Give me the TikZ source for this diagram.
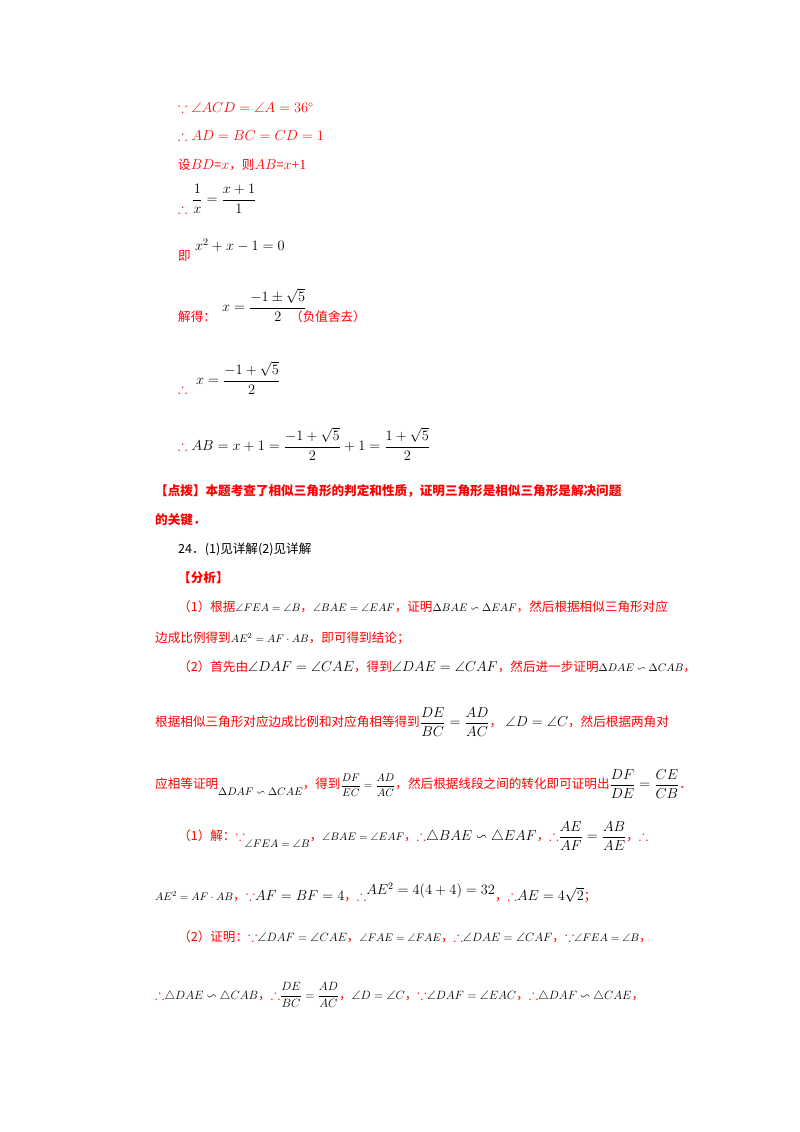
\documentclass[tikz,border=0pt]{standalone}
\usepackage{amsmath,amssymb,graphicx}
\usepackage{fontspec}
\setmainfont{Noto Sans CJK SC}
\newfontfamily\ser{Liberation Serif}
\newcommand{\mb}[1]{{\color{black}\fontsize{14}{17}\selectfont$#1$}}
\newcommand{\mc}[1]{{\color{black}\fontsize{12.5}{15}\selectfont$#1$}}
\newcommand{\sm}[1]{{\color{black}\fontsize{11}{13}\selectfont$#1$}}
\newcommand{\rd}[1]{{\fontsize{14}{17}\selectfont$#1$}}
\begin{document}
\begin{tikzpicture}[x=1pt,y=-1pt,
  ln/.style={anchor=west,inner sep=0pt,font=\fontsize{12.6}{15}\selectfont,text=red},
  bk/.style={ln,text=black},
  bd/.style={ln,font=\bfseries\fontsize{12.6}{15}\selectfont}]
\useasboundingbox (0,0) rectangle (800,1132);
\fill[white] (0,0) rectangle (800,1132);
\node[ln] (l1) at (178,108) {\rd{\because\angle ACD=\angle A=36^\circ}};
\node[ln] (l2) at (178,136) {\rd{\therefore AD=BC=CD=1}};
\node[ln] (l3) at (178,165) {设\rd{BD}={\ser\fontsize{14}{17}\selectfont$x$}，则\rd{AB}={\ser\fontsize{14}{17}\selectfont$x$+1}};
\node[ln] (l4a) at (178,209) {\rd{\therefore}};
\node[ln] (l4) at (192,199) {\mb{\dfrac{1}{x}=\dfrac{x+1}{1}}};
\node[ln] (l5a) at (178,256) {即};
\node[ln] (l5) at (195,245) {\mb{x^2+x-1=0}};
\node[ln] (l6a) at (178,317) {解得：};
\node[ln] (l6) at (222,305) {\mb{x=\dfrac{-1\pm\sqrt5}{2}}};
\node[ln] (l6b) at (290,317) {（负值舍去）};
\node[ln] (l7a) at (178,389) {\rd{\therefore}};
\node[ln] (l7) at (196,378) {\mb{x=\dfrac{-1+\sqrt5}{2}}};
\node[ln] (l8) at (178,444) {\rd{\therefore}\mb{\;AB=x+1=\dfrac{-1+\sqrt5}{2}+1=\dfrac{1+\sqrt5}{2}}};
\node[bd] (l9) at (155,491) {【点拨】本题考查了相似三角形的判定和性质，证明三角形是相似三角形是解决问题};
\node[bd] (l10) at (155,520) {的关键．};
\node[bk] (l11) at (178,549) {24．(1)见详解(2)见详解};
\node[bd] (l12) at (178,578) {【分析】};
\node[ln] (l13) at (178,607) {（1）根据\sm{\angle FEA=\angle B}，\sm{\angle BAE=\angle EAF}，证明\sm{\Delta BAE\backsim\Delta EAF}，然后根据相似三角形对应};
\node[ln] (l14) at (155,638) {边成比例得到\sm{AE^2=AF\cdot AB}，即可得到结论；};
\node[ln] (l15) at (178,667) {（2）首先由\mb{\angle DAF=\angle CAE}，得到\mb{\angle DAE=\angle CAF}，然后进一步证明\sm{\Delta DAE\backsim\Delta CAB}，};
\node[ln] (l16) at (155,722) {根据相似三角形对应边成比例和对应角相等得到\mb{\dfrac{DE}{BC}=\dfrac{AD}{AC}}，\;\mb{\angle D=\angle C}，然后根据两角对};
\node[ln] (l17) at (155,784) {应相等证明\raisebox{-7pt}{\sm{\Delta DAF\backsim\Delta CAE}}，得到\sm{\dfrac{DF}{EC}=\dfrac{AD}{AC}}，然后根据线段之间的转化即可证明出\mb{\dfrac{DF}{DE}=\dfrac{CE}{CB}}．};
\node[ln] (l18) at (178,836) {（1）解：\rd{\because}\raisebox{-7pt}{\sm{\angle FEA=\angle B}}，\sm{\angle BAE=\angle EAF}，\rd{\therefore}\mb{\triangle BAE\backsim\triangle EAF}，\rd{\therefore}\mb{\dfrac{AE}{AF}=\dfrac{AB}{AE}}，\rd{\therefore}};
\node[ln] (l19) at (155,893) {\sm{AE^2=AF\cdot AB}，\rd{\because}\mb{AF=BF=4}，\rd{\therefore}\raisebox{6pt}{\mb{AE^2=4(4+4)=32}}，\rd{\therefore}\mb{AE=4\sqrt2}；};
\node[ln] (l20) at (178,937) {（2）证明：\rd{\because}\mc{\angle DAF=\angle CAE}，\sm{\angle FAE=\angle FAE}，\rd{\therefore}\mc{\angle DAE=\angle CAF}，\rd{\because}\sm{\angle FEA=\angle B}，};
\node[ln] (l21) at (155,995) {\rd{\therefore}\mc{\triangle DAE\backsim\triangle CAB}，\rd{\therefore}\mc{\dfrac{DE}{BC}=\dfrac{AD}{AC}}，\mc{\angle D=\angle C}，\rd{\because}\mc{\angle DAF=\angle EAC}，\rd{\therefore}\mc{\triangle DAF\backsim\triangle CAE}，};
\end{tikzpicture}
\end{document}
